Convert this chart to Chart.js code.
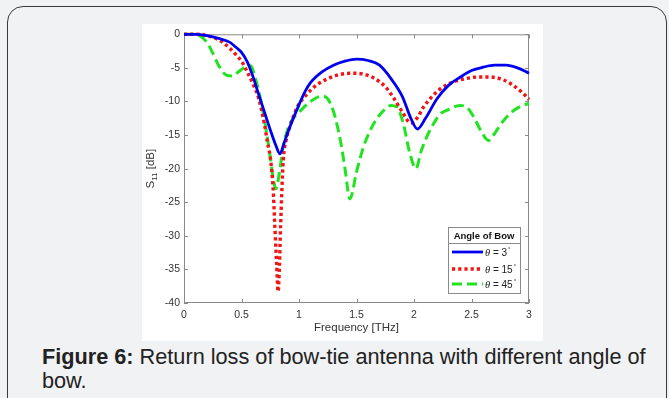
<!DOCTYPE html>
<html>
<head>
<meta charset="utf-8">
<script src="https://cdn.jsdelivr.net/npm/chart.js@4.4.0/dist/chart.umd.min.js"></script>
<style>
    html, body {
        margin: 0;
        padding: 0;
        width: 669px;
        height: 398px;
        overflow: hidden;
        background: #f1f2f4;
        font-family: "Liberation Sans", Arial, sans-serif;
    }
    .frame {
        position: absolute;
        left: 7px;
        top: 6px;
        width: 660px;
        height: 440px;
        border: 1.5px solid #3a3a3a;
        border-radius: 16px;
        box-sizing: border-box;
    }
    .figure {
        position: absolute;
        left: 142px;
        top: 24px;
        width: 401px;
        height: 317px;
        background: #fff;
    }
    .caption {
        position: absolute;
        left: 42px;
        top: 345px;
        width: 615px;
        font-size: 21.7px;
        line-height: 24px;
        color: #222;
    }
</style>
</head>
<body>
<div class="frame"></div>
<div class="figure"><canvas id="s11Chart" width="401" height="317"></canvas></div>
<div class="caption"><b>Figure 6:</b> Return loss of bow-tie antenna with different angle of bow.</div>

<script>
// Return loss S11 [dB] vs frequency [THz]
const freq3 = [0, 0.1, 0.2, 0.3, 0.4, 0.45, 0.5, 0.55, 0.6, 0.65, 0.7, 0.75, 0.8, 0.835, 0.87, 0.92, 1.0, 1.05, 1.1, 1.2, 1.3, 1.4, 1.5, 1.6, 1.7, 1.8, 1.9, 1.97, 2.03, 2.1, 2.2, 2.3, 2.4, 2.5, 2.6, 2.7, 2.8, 2.9, 3.0];
const s11_3 = [0, 0, -0.2, -0.6, -1.2, -1.9, -2.7, -4.1, -6.3, -9.0, -11.6, -14.2, -16.6, -17.8, -16.2, -13.8, -10.5, -8.6, -7.2, -5.6, -4.6, -4.0, -3.7, -3.9, -4.6, -6.6, -9.3, -12.4, -14.1, -12.5, -9.6, -7.6, -6.4, -5.4, -4.9, -4.6, -4.6, -5.0, -5.8];

const freq15 = [0, 0.1, 0.2, 0.3, 0.4, 0.46, 0.5, 0.55, 0.6, 0.65, 0.7, 0.725, 0.754, 0.775, 0.79, 0.805, 0.818, 0.83, 0.84, 0.863, 0.89, 0.92, 0.98, 1.07, 1.15, 1.24, 1.35, 1.47, 1.55, 1.65, 1.75, 1.82, 1.9, 1.97, 2.03, 2.08, 2.15, 2.23, 2.3, 2.375, 2.45, 2.52, 2.6, 2.69, 2.78, 2.87, 2.95, 3.0];
const s11_15 = [0, 0, -0.2, -0.8, -2.1, -3.2, -4.0, -5.6, -7.4, -9.6, -13.4, -16.0, -18.8, -23.0, -28.6, -34.0, -38.3, -34.5, -28.6, -18.8, -15.6, -13.8, -11.0, -8.9, -7.6, -6.7, -6.0, -5.8, -5.9, -6.5, -7.8, -9.4, -11.6, -13.2, -12.4, -10.9, -9.4, -8.1, -7.4, -6.9, -6.6, -6.4, -6.35, -6.4, -6.8, -7.7, -8.8, -9.7];

const freq45 = [0, 0.1, 0.125, 0.2, 0.25, 0.3, 0.37, 0.42, 0.48, 0.53, 0.58, 0.62, 0.66, 0.69, 0.72, 0.75, 0.775, 0.8, 0.83, 0.86, 0.9, 0.95, 1.0, 1.1, 1.2, 1.25, 1.3, 1.36, 1.4, 1.443, 1.5, 1.56, 1.62, 1.675, 1.74, 1.8, 1.85, 1.907, 1.965, 2.017, 2.06, 2.11, 2.17, 2.226, 2.3, 2.4, 2.46, 2.516, 2.58, 2.647, 2.7, 2.75, 2.806, 2.87, 2.93, 3.0];
const s11_45 = [0, 0, -0.1, -1.2, -2.8, -4.6, -6.1, -6.2, -5.5, -4.9, -4.7, -6.5, -9.2, -11.8, -14.8, -18.3, -21.4, -23.0, -20.5, -17.0, -14.2, -12.5, -11.6, -10.0, -9.2, -9.6, -11.5, -15.8, -20.0, -24.5, -20.5, -16.8, -14.3, -12.6, -11.3, -10.6, -10.8, -13.3, -17.8, -20.0, -17.5, -15.3, -13.3, -11.9, -11.2, -10.6, -10.9, -12.2, -14.3, -15.8, -14.8, -13.5, -12.3, -11.3, -10.7, -10.3];

const bowAngles = [3, 15, 45];
const xTicks = [0, 0.5, 1, 1.5, 2, 2.5, 3];
const yTicks = [0, -5, -10, -15, -20, -25, -30, -35, -40];

function points(xs, ys) {
    return xs.map((f, i) => ({ x: f, y: ys[i] }));
}

// MATLAB style box with inward ticks on all four sides
const boxTicks = {
    id: 'boxTicks',
    beforeDatasetsDraw(chart) {
        const { ctx, chartArea: a, scales: { x, y } } = chart;
        ctx.save();
        ctx.strokeStyle = '#8a8a8a';
        ctx.lineWidth = 1;
        ctx.strokeRect(a.left + 0.5, a.top + 0.5, a.right - a.left - 1, a.bottom - a.top - 1);
        ctx.beginPath();
        x.ticks.forEach(t => {
            const px = Math.round(x.getPixelForValue(t.value)) + 0.5;
            ctx.moveTo(px, a.bottom); ctx.lineTo(px, a.bottom - 4);
            ctx.moveTo(px, a.top); ctx.lineTo(px, a.top + 4);
        });
        y.ticks.forEach(t => {
            const py = Math.round(y.getPixelForValue(t.value)) + 0.5;
            ctx.moveTo(a.left, py); ctx.lineTo(a.left + 4, py);
            ctx.moveTo(a.right, py); ctx.lineTo(a.right - 4, py);
        });
        ctx.stroke();
        ctx.restore();
    }
};

// Y axis title with subscript: S11 [dB]
const yTitle = {
    id: 'yTitle',
    afterDraw(chart) {
        const { ctx, chartArea: a } = chart;
        ctx.save();
        ctx.fillStyle = '#333';
        ctx.textBaseline = 'alphabetic';
        ctx.textAlign = 'left';
        const big = '11.5px "Liberation Sans", Arial, sans-serif';
        const small = '8px "Liberation Sans", Arial, sans-serif';
        ctx.font = big;
        const wS = ctx.measureText('S').width;
        const wRest = ctx.measureText(' [dB]').width;
        ctx.font = small;
        const wSub = ctx.measureText('11').width;
        const total = wS + wSub + wRest;
        ctx.translate(12, (a.top + a.bottom) / 2);
        ctx.rotate(-Math.PI / 2);
        let u = -total / 2;
        ctx.font = big;
        ctx.fillText('S', u, 0);
        u += wS;
        ctx.font = small;
        ctx.fillText('11', u, 3);
        u += wSub;
        ctx.font = big;
        ctx.fillText(' [dB]', u, 0);
        ctx.restore();
    }
};

// Legend box with a title, bottom right inside the axes
const legendBox = {
    id: 'legendBox',
    afterDraw(chart) {
        const { ctx, chartArea: a } = chart;
        const w = 72, h = 66;
        const x0 = a.right - 9 - w, y0 = a.bottom - 10 - h;
        ctx.save();
        ctx.fillStyle = '#fff';
        ctx.fillRect(x0, y0, w, h);
        ctx.strokeStyle = '#8a8a8a';
        ctx.lineWidth = 1;
        ctx.strokeRect(x0 + 0.5, y0 + 0.5, w, h);
        ctx.beginPath();
        ctx.moveTo(x0, y0 + 16.5); ctx.lineTo(x0 + w, y0 + 16.5);
        ctx.stroke();

        ctx.fillStyle = '#111';
        ctx.font = 'bold 9.5px "Liberation Sans", Arial, sans-serif';
        ctx.textAlign = 'center';
        ctx.textBaseline = 'middle';
        ctx.fillText('Angle of Bow', x0 + w / 2, y0 + 9);

        const rows = [25, 42, 57];
        chart.data.datasets.forEach((ds, i) => {
            const ry = y0 + rows[i];
            ctx.save();
            ctx.strokeStyle = ds.borderColor;
            ctx.lineWidth = ds.borderWidth;
            ctx.setLineDash(ds.borderDash || []);
            ctx.beginPath();
            ctx.moveTo(x0 + 4, ry);
            ctx.lineTo(x0 + 35, ry);
            ctx.stroke();
            ctx.restore();

            const label = ds.label;
            const theta = label.charAt(0);
            const mid = label.slice(1, -1);
            const deg = label.slice(-1);
            ctx.textAlign = 'left';
            ctx.textBaseline = 'alphabetic';
            ctx.fillStyle = '#222';
            let tx = x0 + 37;
            ctx.font = 'italic 10.5px "Liberation Serif", serif';
            ctx.fillText(theta, tx, ry + 4);
            tx += ctx.measureText(theta).width;
            ctx.font = '10px "Liberation Sans", Arial, sans-serif';
            ctx.fillText(mid, tx, ry + 4);
            tx += ctx.measureText(mid).width + 1;
            ctx.font = '6px "Liberation Sans", Arial, sans-serif';
            ctx.fillText(deg, tx, ry - 1);
        });
        ctx.restore();
    }
};

const colors = ['#0000ee', '#f01414', '#1fe41f'];
const series = [[freq3, s11_3], [freq15, s11_15], [freq45, s11_45]];
const styles = [
    { borderWidth: 2.8, borderDash: [] },
    { borderWidth: 3.4, borderDash: [3.2, 3] },
    { borderWidth: 3, borderDash: [10, 5] }
];

const ctx = document.getElementById('s11Chart');
new Chart(ctx, {
    type: 'line',
    data: {
        datasets: series.map((s, i) => ({
            label: `θ = ${bowAngles[i]}°`,
            data: points(s[0], s[1]),
            borderColor: colors[i],
            borderWidth: styles[i].borderWidth,
            borderDash: styles[i].borderDash,
            borderCapStyle: 'butt',
            pointRadius: 0,
            fill: false,
            cubicInterpolationMode: 'monotone',
            clip: 4
        }))
    },
    options: {
        responsive: false,
        animation: false,
        layout: { padding: { top: 9, right: 14, left: 0, bottom: 0 } },
        plugins: {
            legend: { display: false },
            tooltip: { enabled: false }
        },
        scales: {
            x: {
                type: 'linear',
                min: 0,
                max: 3,
                afterBuildTicks: scale => { scale.ticks = xTicks.map(v => ({ value: v })); },
                afterFit: scale => { scale.height = 38; },
                grid: { display: false, drawTicks: false },
                border: { display: false },
                ticks: {
                    padding: 6,
                    color: '#333',
                    font: { family: '"Liberation Sans", Arial, sans-serif', size: 10.5 },
                    maxRotation: 0,
                    callback: v => String(v)
                },
                title: {
                    display: true,
                    text: 'Frequency [THz]',
                    color: '#333',
                    font: { family: '"Liberation Sans", Arial, sans-serif', size: 11.5 },
                    padding: { top: 0, bottom: 6 }
                }
            },
            y: {
                type: 'linear',
                min: -40,
                max: 0,
                afterBuildTicks: scale => { scale.ticks = yTicks.map(v => ({ value: v })); },
                afterFit: scale => { scale.width = 42; },
                grid: { display: false, drawTicks: false },
                border: { display: false },
                ticks: {
                    padding: 4,
                    color: '#333',
                    font: { family: '"Liberation Sans", Arial, sans-serif', size: 10.5 },
                    callback: v => String(v)
                }
            }
        }
    },
    plugins: [boxTicks, yTitle, legendBox]
});
</script>
</body>
</html>
